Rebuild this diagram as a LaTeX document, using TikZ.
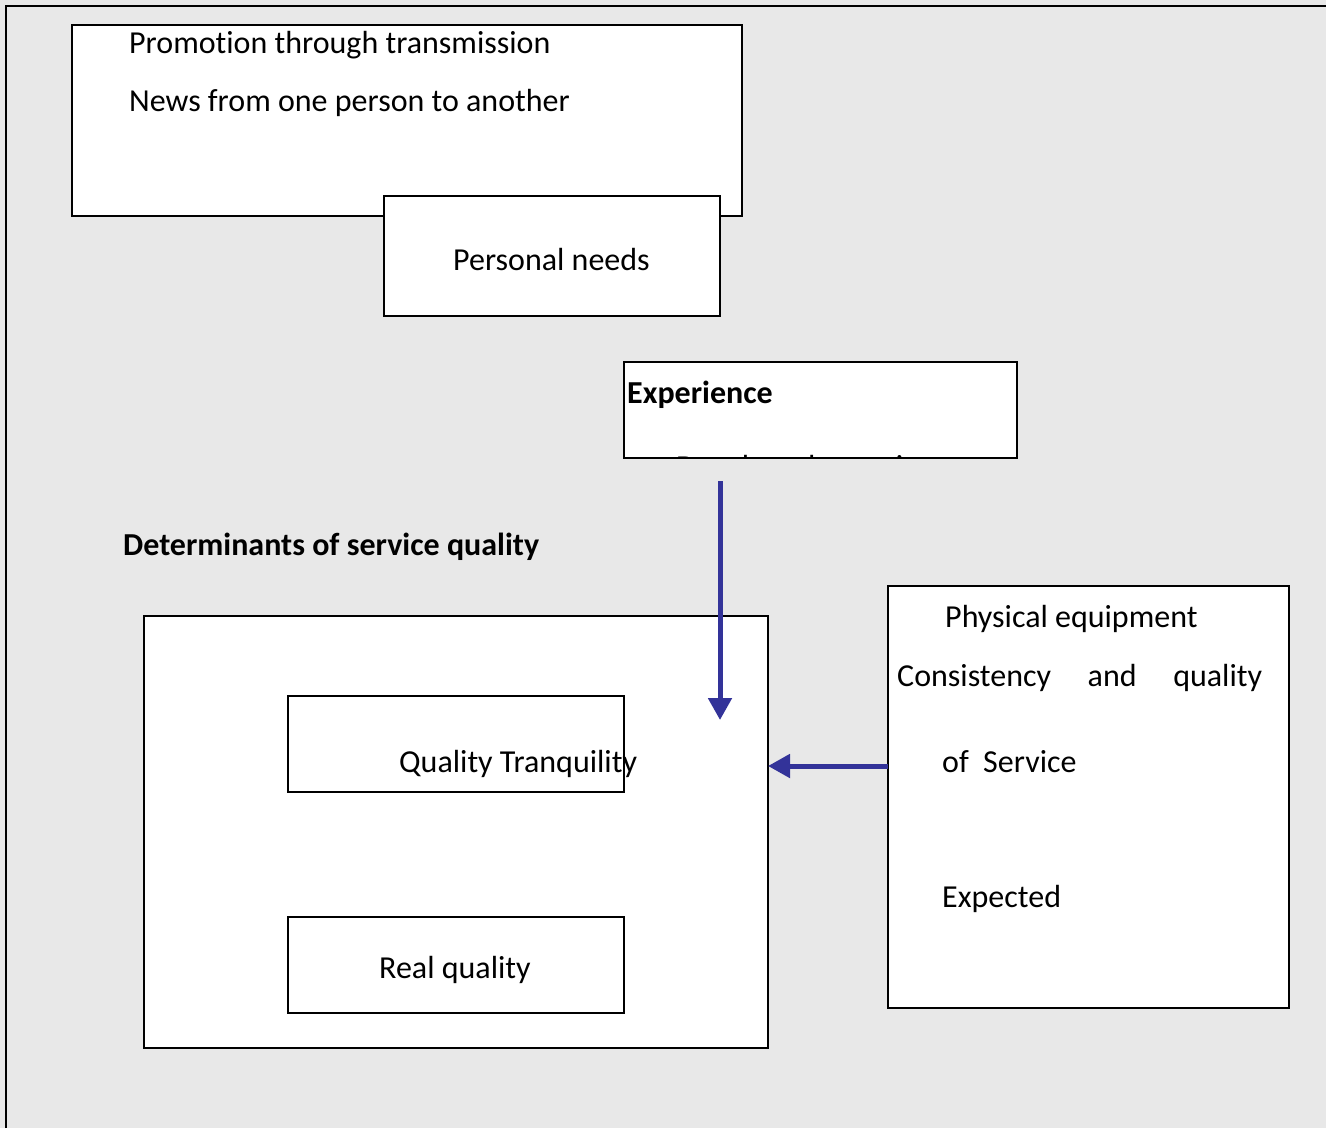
\documentclass[tikz,border=0pt]{standalone}
\usepackage{fontspec}
\setmainfont{Carlito}[Ligatures={NoCommon}]
\usetikzlibrary{arrows.meta}
\definecolor{pagebg}{RGB}{232,232,232}
\definecolor{flowblue}{RGB}{51,51,153}
\tikzset{
  box/.style={draw=black, line width=1.6pt, fill=white, inner sep=0pt, outer sep=0pt, anchor=north west},
  label/.style={inner sep=0pt, anchor=base west, font=\fontsize{32pt}{38pt}\selectfont},
  boldlabel/.style={label, font=\fontsize{32pt}{38pt}\selectfont\bfseries},
  flow/.style={draw=flowblue, line width=5pt, -{Triangle[width=23pt,length=22pt]}}
}
\begin{document}
\begin{tikzpicture}[x=1pt, y=-1pt]
  % canvas and frame
  \fill[pagebg] (0,0) rectangle (1326,1128);
  \useasboundingbox (0,0) rectangle (1326,1128);
  \draw[line width=2pt] (6,1128) -- (6,6) -- (1326,6);

  % word of mouth box
  \node[box, minimum width=670pt, minimum height=191pt] (promo) at (72,25) {};
  \node[label] (promotxt) at (129,53) {Promotion through transmission};
  \node[label] (newstxt) at (129,111) {News from one person to another};

  % personal needs
  \node[box, minimum width=336pt, minimum height=120pt] (needs) at (384,196) {};
  \node[label] (needstxt) at (453,270) {Personal needs};

  % experience box with its second line cut off
  \node[box, minimum width=393pt, minimum height=96pt] (exper) at (624,362) {};
  \node[boldlabel] (expertxt) at (627,403) {Experience};
  \begin{scope}
    \clip (624,362) rectangle (1017,457);
    \node[label] (devtxt) at (676,477) {Developed experience};
  \end{scope}
  \draw[line width=1.6pt] (exper.north west) rectangle (exper.south east);

  % heading
  \node[boldlabel] (heading) at (123,555) {Determinants of service quality};

  % determinants container
  \node[box, minimum width=624pt, minimum height=432pt] (big) at (144,616) {};
  \node[box, minimum width=336pt, minimum height=96pt] (tranq) at (288,696) {};
  \node[label] (tranqtxt) at (399,772) {Quality Tranquility};
  \node[box, minimum width=336pt, minimum height=96pt] (real) at (288,917) {};
  \node[label] (realtxt) at (379,978) {Real quality};

  % expected service box
  \node[box, minimum width=401pt, minimum height=422pt] (expect) at (888,586) {};
  \node[label] (phystxt) at (945,627) {Physical equipment};
  \node[label] (constxt) at (897,686) {\hbox to 365pt{Consistency\hfill and\hfill quality}};
  \node[label] (servtxt) at (942,772) {of\hspace{0.45em}Service};
  \node[label] (exptxt) at (942,907) {Expected};

  % connectors
  \coordinate (vstart) at (720,481);
  \coordinate (vend) at (720,720);
  \coordinate (hy) at (0,766);
  \draw[flow] (vstart) -- (vend);
  \draw[flow] (expect.west |- hy) -- (big.east |- hy);
\end{tikzpicture}
\end{document}
